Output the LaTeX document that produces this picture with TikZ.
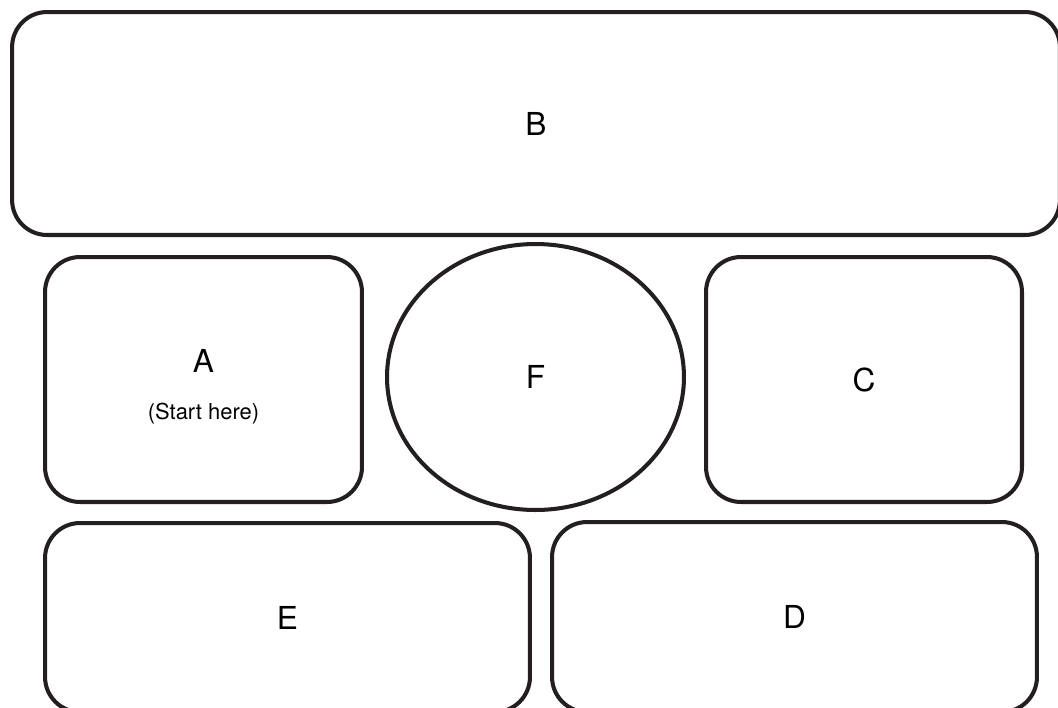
\documentclass[tikz,border=0pt]{standalone}
\usepackage{fontspec}
\setmainfont{TeX Gyre Heros}
\usetikzlibrary{positioning,shapes.geometric}
\definecolor{inkline}{RGB}{35,31,32}

\begin{document}
\begin{tikzpicture}[
    x=0.02cm, y=-0.02cm,
    panel/.style={rectangle,rounded corners=0.7cm,draw=inkline,line width=2.3pt,
      align=center,font=\fontsize{18}{20}\selectfont,inner sep=0pt},
    hub/.style={ellipse,draw=inkline,line width=2.3pt,inner sep=0pt,
      font=\fontsize{18}{20}\selectfont}
  ]
    \useasboundingbox (0,0) rectangle (1058,707);
    \node[panel,minimum width=20.96cm,minimum height=4.46cm] (b) at (536,123.5) {B};
    \node[panel,minimum width=6.34cm,minimum height=4.9cm] (a) at (203.5,379.5)
      {\parbox{5cm}{\centering\vspace*{8.5pt}A\\[6.7pt]{\fontsize{12.5}{14}\selectfont (Start here)}}};
    \node[hub,minimum width=5.94cm,minimum height=5.32cm] (f) at (535.5,377) {F};
    \node[panel,minimum width=6.32cm,minimum height=4.9cm] (c) at (864,379.5) {C};
    \node[panel,minimum width=9.7cm,minimum height=3.78cm] (e) at (287.5,617.5) {E};
    \node[panel,minimum width=9.7cm,minimum height=3.8cm] (d) at (794.5,617) {D};
  \end{tikzpicture}
\end{document}
